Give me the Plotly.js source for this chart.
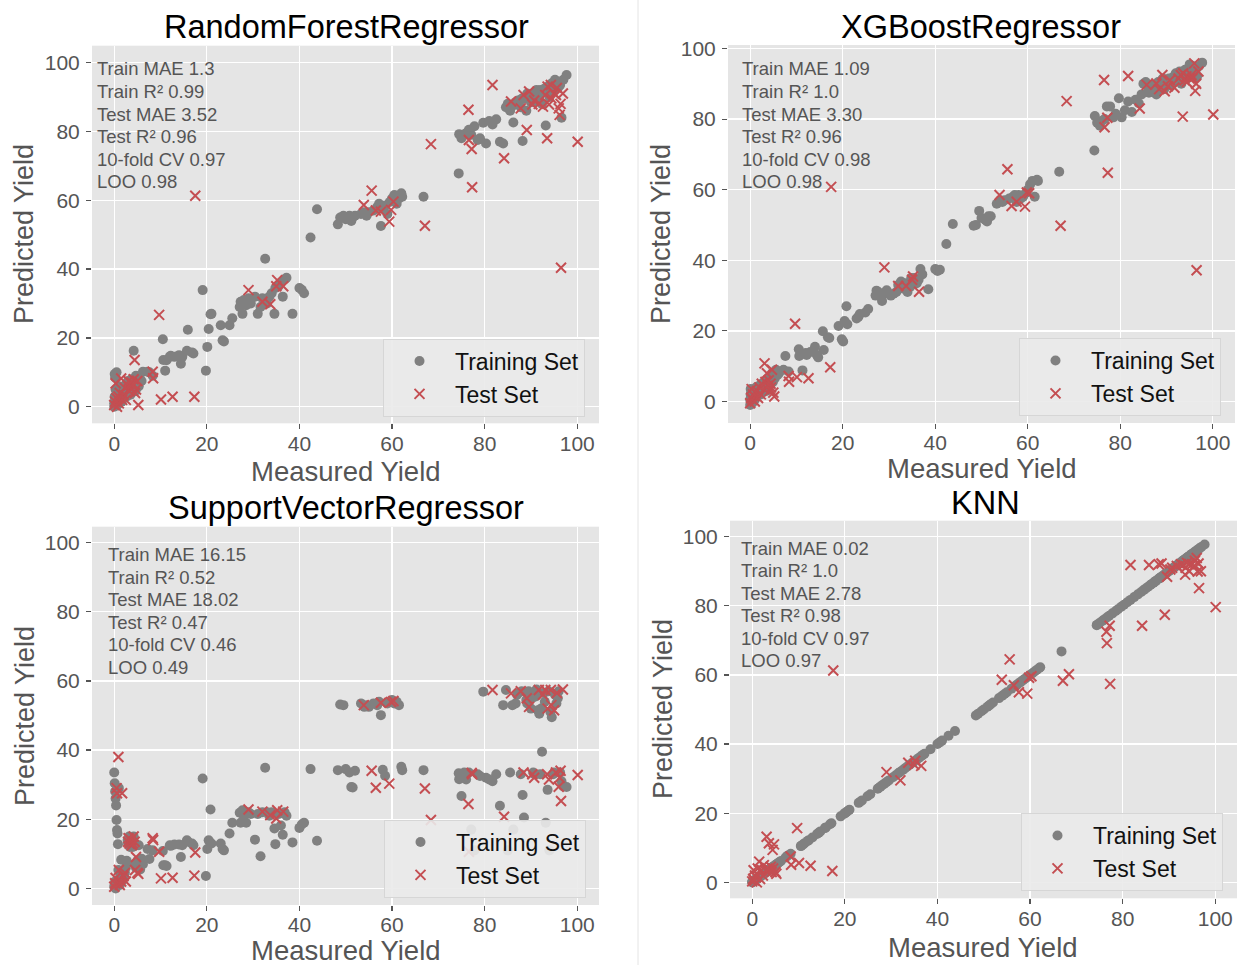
<!DOCTYPE html>
<html>
<head>
<meta charset="utf-8">
<script src="https://cdn.plot.ly/plotly-3.0.1.min.js"></script>
<style>html,body{margin:0;padding:0;background:#fff;}#chart{width:1243px;height:965px;}</style>
</head>
<body>
<div id="chart"></div>
<script>
// ---------------- DATA ----------------
const panelTitles = ['RandomForestRegressor', 'XGBoostRegressor', 'SupportVectorRegressor', 'KNN'];
const xAxisTitle = 'Measured Yield';
const yAxisTitle = 'Predicted Yield';
const tickValues = [0, 20, 40, 60, 80, 100];
const legendNames = ['Training Set', 'Test Set'];

const metricsRF  = ['Train MAE 1.3',  'Train R² 0.99', 'Test MAE 3.52',  'Test R² 0.96', '10-fold CV 0.97', 'LOO 0.98'];
const metricsXGB = ['Train MAE 1.09', 'Train R² 1.0',  'Test MAE 3.30',  'Test R² 0.96', '10-fold CV 0.98', 'LOO 0.98'];
const metricsSVR = ['Train MAE 16.15','Train R² 0.52', 'Test MAE 18.02', 'Test R² 0.47', '10-fold CV 0.46', 'LOO 0.49'];
const metricsKNN = ['Train MAE 0.02', 'Train R² 1.0',  'Test MAE 2.78',  'Test R² 0.98', '10-fold CV 0.97', 'LOO 0.97'];

// training set: measured yields (shared by all models)
const trainMeasured = [
 0.0,0.0,0.1,0.1,0.2,0.2,0.3,0.3,0.4,0.5,0.5,0.6,0.7,0.8,0.9,1.0,1.0,1.2,1.3,1.5,1.6,1.8,2.0,2.1,2.3,2.5,2.7,2.9,3.0,3.2,3.4,3.5,3.7,3.9,4.0,4.2,4.4,4.5,4.7,4.9,5.0,5.3,5.6,5.9,6.2,
 7.2,7.6,8.3,10.5,10.6,11.0,11.3,12.0,12.2,13.0,14.0,14.4,14.7,15.7,15.9,16.8,17.1,19.1,19.8,20.1,
 20.4,20.8,21.0,23.0,23.4,23.7,24.9,25.5,27.1,27.3,27.7,28.0,28.5,29.0,29.5,30.4,31.0,31.6,32.0,32.6,33.0,33.5,34.0,34.6,34.8,35.5,36.0,36.4,36.8,37.2,38.5,40.0,40.5,41.0,42.4,43.8,
 48.3,48.8,49.5,50.0,50.8,51.2,51.5,52.0,53.3,54.0,54.5,55.0,56.0,56.8,57.2,57.6,58.0,58.5,59.0,59.5,60.0,60.5,61.0,61.5,62.0,62.2,
 66.8,
 74.4,74.5,75.0,75.6,76.0,76.6,77.1,77.8,78.5,79.0,79.7,80.3,81.0,81.7,82.5,83.3,84.0,84.6,85.0,85.5,86.2,86.7,87.2,87.8,88.2,88.5,89.0,89.5,90.0,90.5,91.0,91.5,92.0,92.4,92.8,93.2,93.6,94.0,94.5,95.0,95.5,96.0,96.6,97.0,97.7,
 86.0,87.0,88.0,89.2,90.2,91.2,92.2,93.0,93.8,94.2,94.8,95.2,95.8,96.3,91.8,90.8
];
const trainPredRF = [
 1,0,3,9.5,2,8.5,0.5,5,1.5,10,3,2,0.5,4,2.5,1,6,3,2,4,1.5,3,5,2.5,4,6.5,3,5,7.5,4,6,3.5,8,5,6.5,16.3,7,4.5,9,5.5,7,6,8,7.5,10.2,
 10.2,10,9,19.6,13.6,10.5,13.5,14.5,14.8,14.5,15,12.5,14.5,16.3,22.4,15.8,15.5,33.9,10.5,17.4,
 22.6,26.9,27,23.7,19.3,19,23.7,25.7,29,30.5,27,31,29.5,31.5,30,32,27,29,31.5,43,30,32,33,27,34.5,35,36,32,37,37.5,27,34.5,34,33,49.2,57.4,
 53,55,55.5,54.5,55.5,54,55,55.5,56,56.5,55.5,56.5,57,58,59,52.5,57.5,58.5,56,59.5,60.5,61.5,59,60.5,62,61,
 61,
 67.8,79.2,78,79,79.5,80.5,79,81.5,77.5,78,82.5,76.5,83,82,83.5,77,76.5,87,88,86,82.6,88.5,89,87,77.2,89.5,86,90,88.5,91,89,90.5,92,88,91.5,81.7,93,90,94,92,94.5,93,84,95,96.4,
 87.5,88,89.5,91,90,92,91,92.5,91.5,93.5,92.5,95,94,93.5,89.5,88.5
];
const trainPredXGB = [
 -1,0.5,2,3.5,0,1.5,1,3,-0.5,2.5,1,0,2,1.5,3,0.5,2.5,1.5,4,2,3,2.5,4.5,3,2,5,4,3,5.5,4,6,3,5,6.5,4,7,5,6,8,5.5,7.5,6.5,9,7.5,8,
 9,12.9,8.5,14.8,12.9,13.5,8.8,13.7,13.2,14,15.5,13.2,12.5,19.9,14.6,18.2,18,21.4,17.6,17,
 22.8,27,21.9,23.5,24,24.8,25.2,26.2,30,31.4,31,30.5,28.5,30.5,31.5,30,30.5,31,33,34,32,33.5,31,32.5,35,35,33.5,34.5,37.5,36,31.8,37.5,37,37.3,44.6,50.3,
 49.8,50,54,52,51.5,51,52.5,52.5,56,57,56.5,57,57.5,58,58.5,56.5,58.5,57.5,58,59,60,61.5,62.5,58,62.8,62.5,
 65.1,
 71.1,80.9,79,78.1,79.5,80,83.6,83.6,80.5,81.5,85.9,80.5,82.5,85,82,85.5,84.5,87,90,90.5,87.5,88.5,89.5,87,90.5,89,91,88.5,90,91.5,89.5,92,93,91,93.5,90,92.5,94,91.5,95.5,93.5,94.5,92,95,96,
 88,89.5,90,91.5,90.5,91.5,92,92.5,93.5,92,94,93,95,94,91,90
];
const trainPredSVR = [
 33.5,0.5,30.4,1,28,2,26,0,24,19.8,1.5,16.9,15.9,12.8,5.3,2.5,29,1,3.5,8.3,2,4,3,5,4.5,6,8,14,13,15,12,14.5,14.8,13.5,12,15,7,13,6,12.5,8,12.5,5.5,8.6,7,
 11.4,8.5,11,10.8,6.7,6.7,6.5,12.5,12.3,12.7,12.7,9.1,12.5,13.9,13.5,13,12.5,31.8,3.6,11.4,
 13.9,22.8,13,13,11.4,11,15.9,19,21.9,19,22.6,21,19,22,21.5,14.1,21.5,9.3,22,34.9,22,21,22,17.3,12.8,21.5,18.2,15.5,22,21,13.3,17.5,18.5,19,34.5,13.8,
 34.2,53.2,53.0,34.5,33.5,29.3,29.2,34.0,53.5,52.5,53,52.5,53.5,53,54,50.1,34.3,32.6,53.5,54,54.5,53.5,54,53,35.2,34.2,
 34.2,
 33.3,31.6,26.7,33.5,31.5,33.5,17,11,33,32.5,56.9,32,31.5,31,33,23.9,53,57.4,11,33.5,17,53.5,56.5,33,27,20.5,54.5,57,52,33.5,55.5,51.5,33,39.5,56.5,19,28.5,11,49.5,33.5,53.5,57,31,29.5,29.3,
 53,56,57,53.5,55,57.5,52,54,57,51,33,56,55,33.5,50.5,33
];
const trainPredKNN = [
 0,0.2,0.1,0.3,0.2,0.4,0.3,0.5,0.4,0.5,0.7,0.6,0.7,0.8,0.9,1.0,1.2,1.2,1.3,1.5,1.6,1.8,2.0,2.1,2.3,2.5,2.7,2.9,3.0,3.2,3.4,3.5,3.7,3.9,4.0,4.2,4.4,4.5,4.7,4.9,5.0,5.3,5.6,5.9,6.2,
 7.2,7.7,8.3,10.5,10.6,11.0,11.3,12.0,12.2,13.0,14.0,14.4,14.7,15.7,15.9,16.8,17.1,19.1,19.8,20.1,
 20.4,20.8,21.0,23.0,23.4,23.7,24.9,25.5,27.1,27.3,27.7,28.0,28.5,29.0,29.5,30.4,31.0,31.6,32.0,32.6,33.0,33.5,34.0,34.6,34.8,35.5,36.0,36.4,36.8,37.2,38.5,40.0,40.5,41.0,42.4,43.8,
 48.3,48.8,49.5,50.0,50.8,51.2,51.5,52.0,53.3,54.0,54.5,55.0,56.0,56.8,57.2,57.6,58.0,58.5,59.0,59.5,60.0,60.5,61.0,61.5,62.0,62.2,
 66.8,
 74.4,74.5,75.0,75.6,76.0,76.6,77.1,77.8,78.5,79.0,79.7,80.3,81.0,81.7,82.5,83.3,84.0,84.6,85.0,85.5,86.2,86.7,87.2,87.8,88.2,88.5,89.0,89.5,90.0,90.5,91.0,91.5,92.0,92.4,92.8,93.2,93.6,94.0,94.5,95.0,95.5,96.0,96.6,97.0,97.7,
 86.0,87.0,88.0,89.2,90.2,91.2,92.2,93.0,93.8,94.2,94.8,95.2,95.8,96.3,91.8,90.8
];

// test set: measured yields (shared by all models)
const testMeasured = [
 0.0,0.2,0.3,0.5,0.6,0.9,1.0,1.2,1.5,1.7, 2.0,2.3,2.5,3.0,3.1,3.3,3.6,3.8,4.0,4.2,
 4.4,4.7,4.5,5.2,5.0,8.3,8.4,9.7,10.1,12.6, 17.3,17.5,29.0,32.0,33.7,35.2,35.0,36.5,53.9,55.6,
 56.5,57.6,59.4,59.8,60.3,67.1,68.4,76.5,76.6,77.2, 77.3,81.7,84.2,85.7,87.8,88.4,89.1,89.6,90.3,90.7,
 91.7,92.6,93.1,93.5,93.6,93.9,94.3,94.4,95.0,95.4, 95.6,96.0,96.2,96.4,96.5,96.9,100.1
];
const testPredRF = [
 0.5,1.5,6.8,2.5,0.0,3.0,1.0,4.0,8.2,2.0, 3.5,5.5,2.0,6.0,7.5,4.5,5.5,7.0,6.5,8.0,
 13.6,5.0,4.0,0.5,7.5,10.2,8.3,26.7,2.1,2.9, 2.9,61.3,33.9,30.5,29.8,36.8,35.0,35.0,58.6,62.8,
 57.0,56.7,53.8,57.2,59.6,52.6,76.3,86.3,77.5,74.9, 63.8,93.5,72.2,88.7,86.7,90.6,80.4,91.6,87.8,89.0,
 88.0,87.2,90.6,78.0,93.0,87.8,93.5,89.6,91.0,90.6, 92.6,86.7,84.8,88.0,40.4,91.0,77.0
];
const testPredXGB = [
 -0.5,1.0,3.5,0.5,2.0,1.5,0.0,2.5,3.0,1.0, 4.0,2.0,5.0,3.5,10.8,5.5,8.0,4.5,6.0,3.0,
 5.0,9.0,4.0,1.4,2.5,7.2,5.6,22.0,6.9,6.6, 9.7,60.8,38.0,32.7,32.7,35.4,34.5,31.1,58.5,65.8,
 55.4,56.6,55.2,59.2,59.0,49.8,85.1,91.1,77.7,80.4, 64.8,92.2,83.0,89.7,90.1,88.5,92.5,87.9,89.3,91.0,
 88.9,91.5,92.5,80.7,93.0,91.0,92.1,90.5,91.5,92.5, 91.6,95.8,88.0,90.0,37.2,93.5,81.3
];
const testPredSVR = [
 0.5,1.5,3.0,29.0,27.5,38.0,5.3,1.0,2.0,27.5, 3.5,4.5,2.0,13.5,14.5,13.0,14.0,12.5,13.0,15.0,
 13.5,9.1,5.3,4.2,4.5,14.5,14.0,10.6,2.9,3.1, 3.7,10.4,22.8,22.2,21.2,22.6,20.2,22.2,53.0,34.0,
 29.1,53.7,30.3,53.9,54.2,28.9,19.8,24.4,10.6,33.4, 33.0,57.4,20.7,56.4,57.0,33.5,55.0,52.5,33.0,32.0,
 57.4,56.0,57.4,33.0,52.0,31.5,57.4,53.0,51.5,33.5, 56.5,29.4,32.0,34.0,25.3,57.5,32.8
];
const testPredKNN = [
 0.3,1.0,3.5,0.5,2.0,1.5,0.0,4.0,6.0,1.0, 3.5,2.0,5.0,3.5,13.2,4.0,11.3,3.5,4.5,3.0,
 9.4,11.0,4.0,2.5,3.0,7.5,5.1,15.7,5.6,4.8, 3.3,61.3,31.9,29.5,34.6,35.2,34.0,33.7,58.6,64.5,
 57.0,55.0,54.6,59.2,59.6,58.3,60.2,72.5,69.2,74.2, 57.4,91.8,74.2,91.8,92.0,92.2,77.4,88.4,90.5,91.0,
 91.5,92.0,91.8,89.0,91.0,92.4,92.0,90.0,92.0,91.5, 93.0,93.8,89.9,92.2,85.1,90.0,79.6
];

// ---------------- LAYOUT HELPERS ----------------
const W = 1243, H = 965;
const px = v => v / W;
const py = v => 1 - v / H;

const panels = [
  {title: panelTitles[0], trainY: trainPredRF,  testY: testPredRF,  metrics: metricsRF,
   plot: [92, 45.7, 599, 423.3], xr: [-4.8, 104.7], yr: [-4.8, 104.9],
   titleC: [346, 25.5], metLeft: 95, metTop: 67.5, xtC: [346, 469], ytC: [22, 234], leg: [383, 338.5]},
  {title: panelTitles[1], trainY: trainPredXGB, testY: testPredXGB, metrics: metricsXGB,
   plot: [728, 45, 1235, 423], xr: [-4.8, 104.8], yr: [-6.1, 101.0],
   titleC: [981, 25.5], metLeft: 740, metTop: 67.5, xtC: [982, 466], ytC: [659, 234], leg: [1019, 338]},
  {title: panelTitles[2], trainY: trainPredSVR, testY: testPredSVR, metrics: metricsSVR,
   plot: [92, 526.7, 599, 905], xr: [-4.8, 104.7], yr: [-4.8, 104.6],
   titleC: [346, 506.3], metLeft: 105.5, metTop: 553.3, xtC: [346, 948.5], ytC: [23, 716], leg: [384, 819.5]},
  {title: panelTitles[3], trainY: trainPredKNN, testY: testPredKNN, metrics: metricsKNN,
   plot: [730, 520.7, 1237, 898.3], xr: [-4.8, 104.7], yr: [-4.6, 104.6],
   titleC: [985.5, 501], metLeft: 739, metTop: 546.7, xtC: [983, 945], ytC: [661, 709], leg: [1021, 813]}
];

const FONT = 'Liberation Sans, Arial, Helvetica, sans-serif';
const axisBase = {
  tickvals: tickValues, ticks: 'outside', ticklen: 5, tickwidth: 1.2, tickcolor: '#555',
  tickfont: {size: 21, color: '#555', family: FONT},
  showgrid: true, gridcolor: '#ffffff', gridwidth: 1.3, zeroline: false, showline: false,
  fixedrange: true
};

const traces = [];
const layout = {
  width: W, height: H, margin: {l: 0, r: 0, t: 0, b: 0},
  paper_bgcolor: '#ffffff', plot_bgcolor: '#e5e5e5',
  font: {family: FONT, color: '#555'},
  showlegend: true, hovermode: false,
  annotations: [],
  shapes: [
    {type: 'line', xref: 'paper', yref: 'paper', x0: px(638), x1: px(638), y0: 0, y1: 1,
     line: {color: '#e4e4e4', width: 1}}
  ]
};

panels.forEach((p, i) => {
  const s = i === 0 ? '' : String(i + 1);
  const legId = 'legend' + s;
  traces.push({
    type: 'scatter', mode: 'markers', name: legendNames[0],
    x: trainMeasured, y: p.trainY, xaxis: 'x' + s, yaxis: 'y' + s, legend: legId,
    marker: {color: '#808080', size: 10, line: {width: 0}}
  });
  traces.push({
    type: 'scatter', mode: 'markers', name: legendNames[1],
    x: testMeasured, y: p.testY, xaxis: 'x' + s, yaxis: 'y' + s, legend: legId,
    marker: {symbol: 'x-thin', size: 10, color: '#c44e52', line: {width: 2, color: '#c44e52'}}
  });

  layout['xaxis' + s] = Object.assign({}, axisBase, {
    domain: [px(p.plot[0]), px(p.plot[2])], anchor: 'y' + s, range: p.xr,
    ticklabelstandoff: -4
  });
  layout['yaxis' + s] = Object.assign({}, axisBase, {
    domain: [py(p.plot[3]), py(p.plot[1])], anchor: 'x' + s, range: p.yr,
    ticklabelstandoff: 2
  });

  layout[legId] = {
    x: px(p.leg[0]), y: py(p.leg[1]), xanchor: 'left', yanchor: 'top',
    bgcolor: 'rgba(234,234,234,0.9)', bordercolor: '#d6d6d6', borderwidth: 1,
    font: {size: 23, color: '#111', family: FONT}, itemwidth: 61, tracegroupgap: 0
  };

  // panel title
  layout.annotations.push({
    text: p.title, xref: 'paper', yref: 'paper', x: px(p.titleC[0]), y: py(p.titleC[1] + 2),
    xanchor: 'center', yanchor: 'middle', showarrow: false,
    font: {size: 32.5, color: '#000', family: FONT}
  });
  // axis titles
  layout.annotations.push({
    text: xAxisTitle, xref: 'paper', yref: 'paper', x: px(p.xtC[0]), y: py(p.xtC[1] + 2),
    xanchor: 'center', yanchor: 'middle', showarrow: false,
    font: {size: 27.5, color: '#555', family: FONT}
  });
  layout.annotations.push({
    text: yAxisTitle, xref: 'paper', yref: 'paper', x: px(p.ytC[0] + 2), y: py(p.ytC[1]),
    xanchor: 'center', yanchor: 'middle', textangle: -90, showarrow: false,
    font: {size: 27, color: '#555', family: FONT}
  });
  // metrics text block
  p.metrics.forEach((m, k) => {
    layout.annotations.push({
      text: m, xref: 'paper', yref: 'paper', x: px(p.metLeft), y: py(p.metTop + k * 22.5 + 1.5),
      xanchor: 'left', yanchor: 'middle', showarrow: false,
      font: {size: 18.5, color: '#555', family: FONT}
    });
  });
});

Plotly.newPlot('chart', traces, layout, {displayModeBar: false, staticPlot: true});
</script>
</body>
</html>
